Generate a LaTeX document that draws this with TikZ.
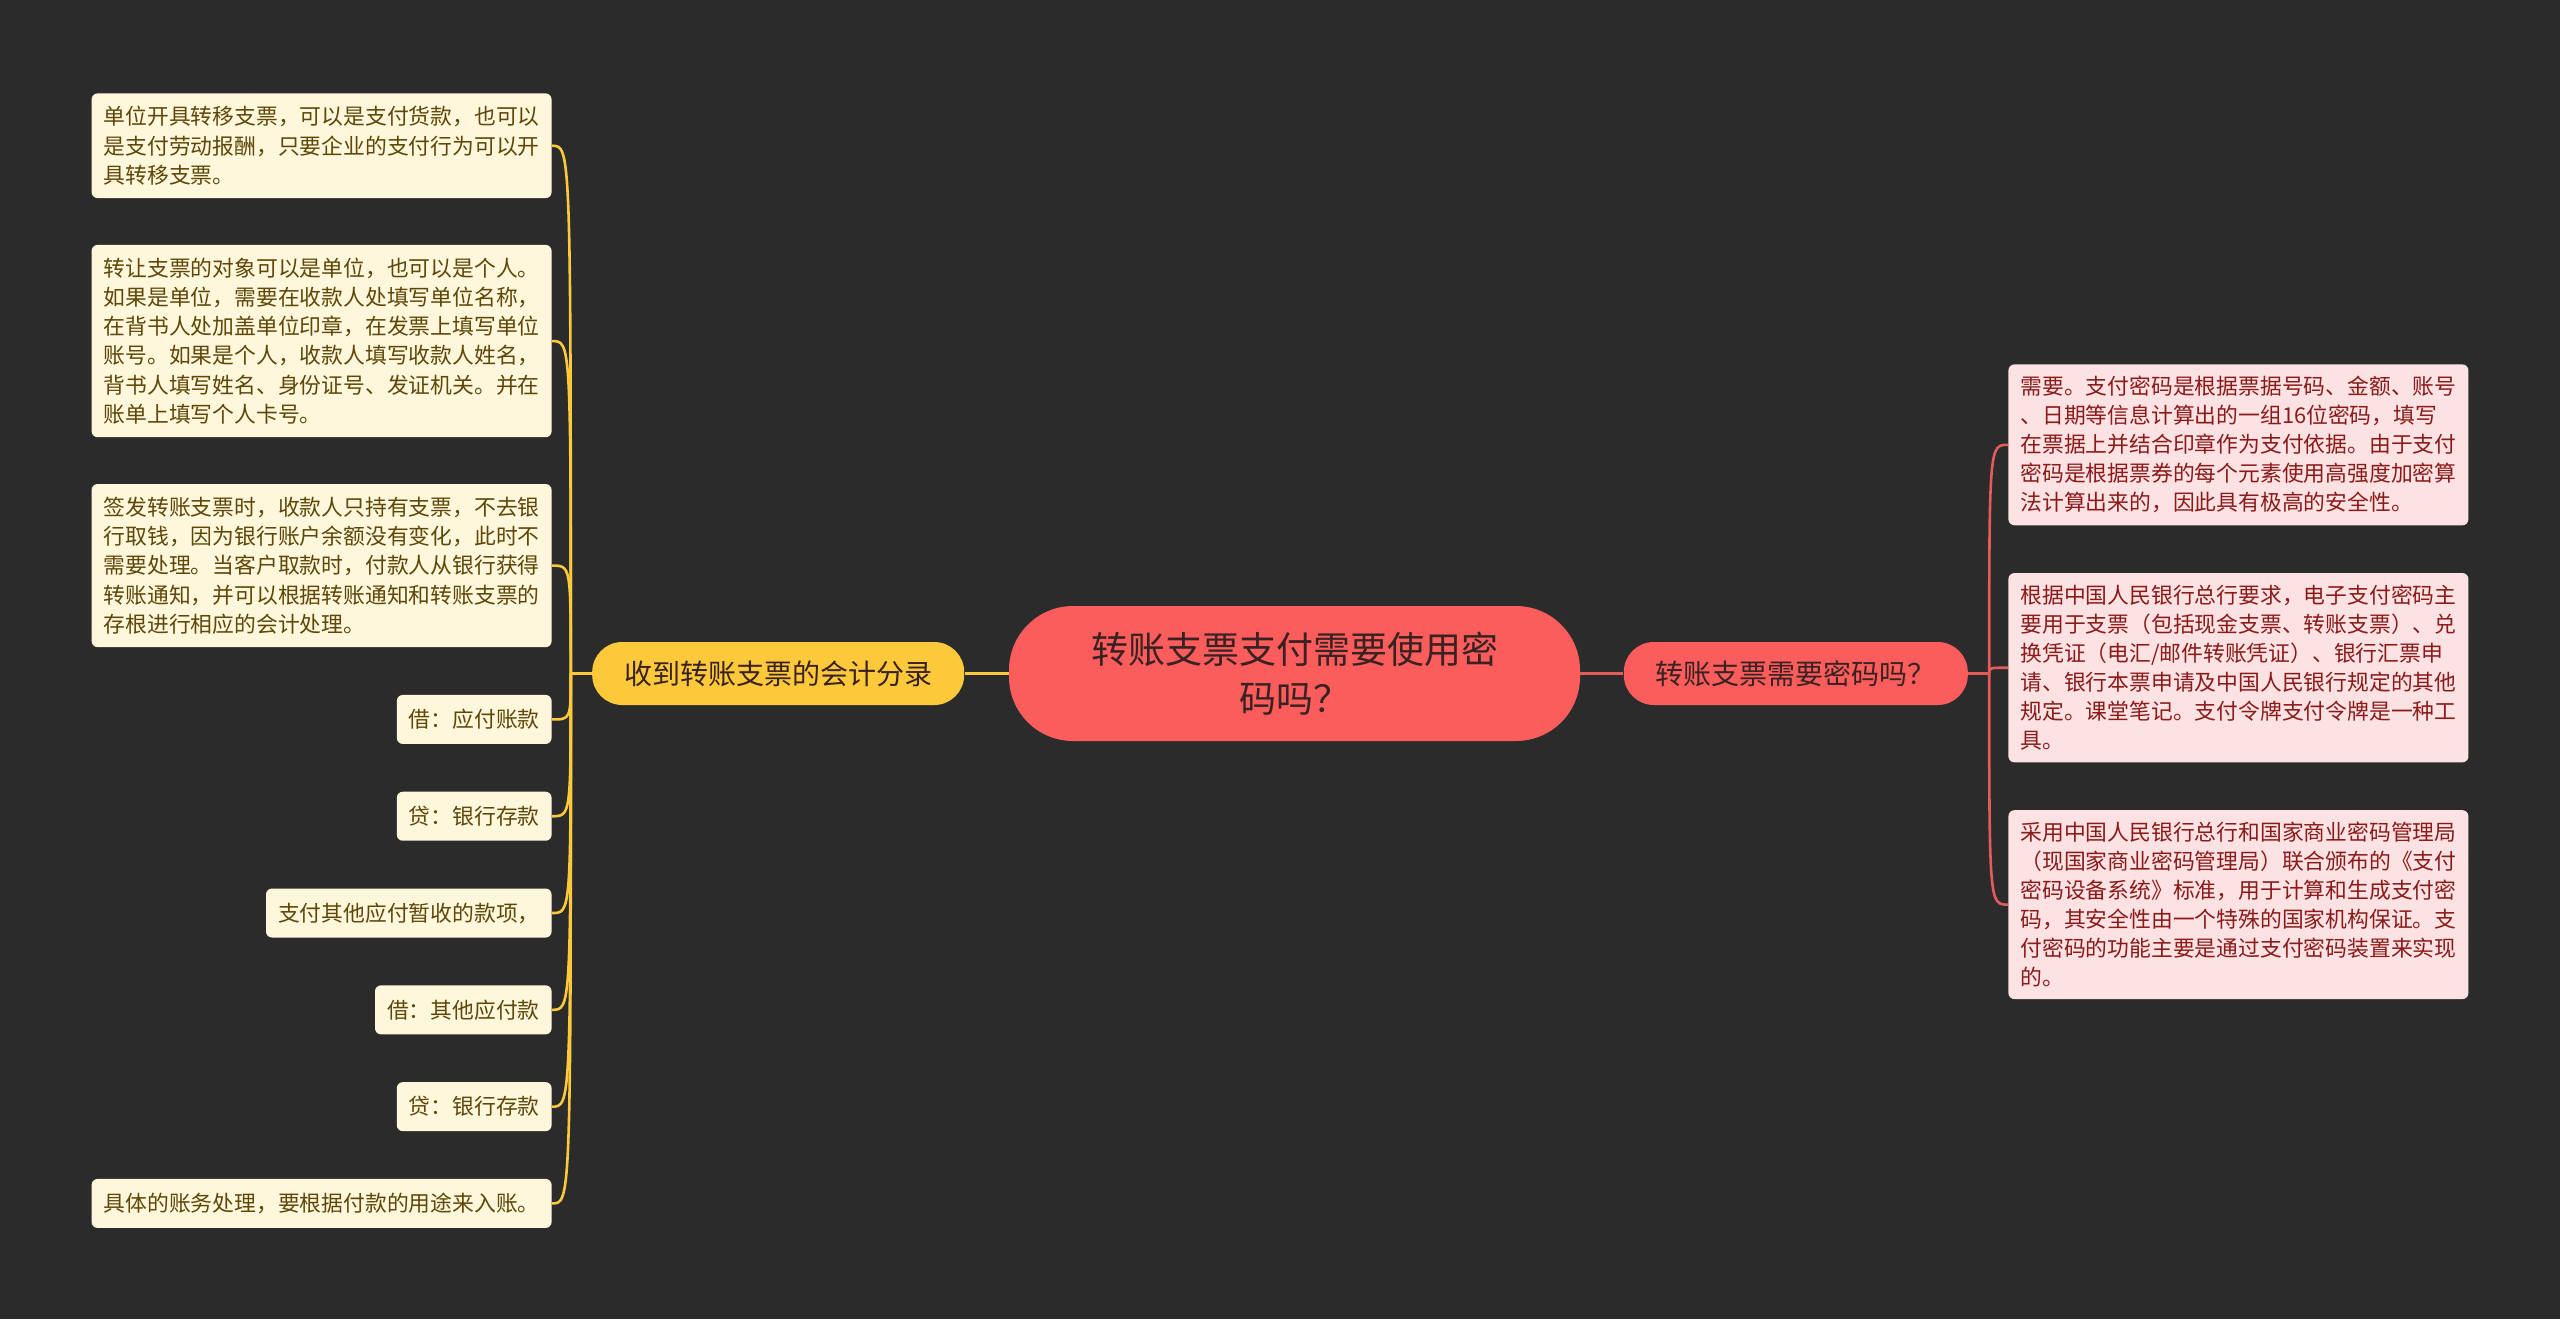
\documentclass[tikz,border=0pt]{standalone}
\usepackage{fontspec}
\setmainfont{Noto Sans CJK SC}
\definecolor{bgdark}{HTML}{2B2B2B}
\definecolor{rootred}{HTML}{FB5C5C}
\definecolor{roottext}{HTML}{3A2222}
\definecolor{gold}{HTML}{FCC93B}
\definecolor{cream}{HTML}{FEF7DC}
\definecolor{creamtext}{HTML}{5E4708}
\definecolor{pink}{HTML}{FCE2E2}
\definecolor{pinktext}{HTML}{8B1A1A}
\definecolor{linkred}{HTML}{E35B5B}
\usepackage{tikz}
\usetikzlibrary{positioning,calc}
\tikzset{
  root_pill/.style={fill=rootred,rounded corners=32pt,minimum width=285.5pt,minimum height=67.5pt,
    font=\fontsize{18.5}{24.5}\selectfont\color{roottext},align=center,inner sep=0pt},
  branch_gold/.style={fill=gold,rounded corners=15pt,minimum width=186pt,minimum height=31.5pt,
    font=\fontsize{14}{17}\selectfont\color{roottext},inner sep=0pt},
  branch_red/.style={fill=rootred,rounded corners=15pt,minimum width=172pt,minimum height=31.5pt,
    font=\fontsize{14}{17}\selectfont\color{roottext},inner sep=0pt},
  leaf_cream/.style={fill=cream,rounded corners=3pt,inner xsep=6pt,inner ysep=6.5pt,minimum height=24.5pt,
    font=\fontsize{10.9}{14.6}\selectfont\color{creamtext},align=left},
  leaf_pink/.style={fill=pink,rounded corners=3pt,inner xsep=6pt,inner ysep=6pt,minimum height=24pt,
    font=\fontsize{10.9}{14.5}\selectfont\color{pinktext},align=left},
  wide/.style={text width=218pt},
  link_gold/.style={draw=gold,line width=1.3pt},
  link_red/.style={draw=linkred,line width=1.3pt},
}

\begin{document}
\begin{tikzpicture}[x=0.5pt,y=-0.5pt]

  \fill[bgdark] (0,0) rectangle (2560,1319);
  \useasboundingbox (0,0) rectangle (2560,1319);

  \node[root_pill] (main) at (1294.5,673.5) {转账支票支付需要使用密\\码吗？};
  \node[branch_gold, left=22pt of main] (acc) {收到转账支票的会计分录};
  \node[branch_red, right=21.5pt of main] (pwd) {转账支票需要密码吗？};

  % left side
  \node[leaf_cream,wide,anchor=north east] (l1) at (552,93) {单位开具转移支票，可以是支付货款，也可以\\是支付劳动报酬，只要企业的支付行为可以开\\具转移支票。};
  \node[leaf_cream,wide,below=23pt of l1.south east,anchor=north east] (l2) {转让支票的对象可以是单位，也可以是个人。\\如果是单位，需要在收款人处填写单位名称，\\在背书人处加盖单位印章，在发票上填写单位\\账号。如果是个人，收款人填写收款人姓名，\\背书人填写姓名、身份证号、发证机关。并在\\账单上填写个人卡号。};
  \node[leaf_cream,wide,below=23pt of l2.south east,anchor=north east] (l3) {签发转账支票时，收款人只持有支票，不去银\\行取钱，因为银行账户余额没有变化，此时不\\需要处理。当客户取款时，付款人从银行获得\\转账通知，并可以根据转账通知和转账支票的\\存根进行相应的会计处理。};
  \node[leaf_cream,below=23.5pt of l3.south east,anchor=north east] (l4) {借：应付账款};
  \node[leaf_cream,below=23.5pt of l4.south east,anchor=north east] (l5) {贷：银行存款};
  \node[leaf_cream,below=23.5pt of l5.south east,anchor=north east] (l6) {支付其他应付暂收的款项，};
  \node[leaf_cream,below=23.5pt of l6.south east,anchor=north east] (l7) {借：其他应付款};
  \node[leaf_cream,below=23.5pt of l7.south east,anchor=north east] (l8) {贷：银行存款};
  \node[leaf_cream,below=23.5pt of l8.south east,anchor=north east] (l9) {具体的账务处理，要根据付款的用途来入账。};

  % right side
  \node[leaf_pink,wide,anchor=north west] (r1) at (2008,364) {需要。支付密码是根据票据号码、金额、账号\\、日期等信息计算出的一组16位密码，填写\\在票据上并结合印章作为支付依据。由于支付\\密码是根据票券的每个元素使用高强度加密算\\法计算出来的，因此具有极高的安全性。};
  \node[leaf_pink,wide,below=23.5pt of r1.south west,anchor=north west] (r2) {根据中国人民银行总行要求，电子支付密码主\\要用于支票（包括现金支票、转账支票）、兑\\换凭证（电汇/邮件转账凭证）、银行汇票申\\请、银行本票申请及中国人民银行规定的其他\\规定。课堂笔记。支付令牌支付令牌是一种工\\具。};
  \node[leaf_pink,wide,below=23.5pt of r2.south west,anchor=north west] (r3) {采用中国人民银行总行和国家商业密码管理局\\（现国家商业密码管理局）联合颁布的《支付\\密码设备系统》标准，用于计算和生成支付密\\码，其安全性由一个特殊的国家机构保证。支\\付密码的功能主要是通过支付密码装置来实现\\的。};

  % connectors
  \draw[link_gold] (main.west) -- (acc.east);
  \draw[link_red] (main.east) -- (pwd.west);
  \coordinate (accj) at ([xshift=-10.5pt]acc.west);
  \coordinate (pwdj) at ([xshift=10.5pt]pwd.east);
  \draw[link_gold] (acc.west) -- (accj);
  \draw[link_red] (pwd.east) -- (pwdj);
  \foreach \n in {l1,l2,l3,l4,l5,l6,l7,l8,l9}
    \draw[link_gold] (accj) .. controls (accj |- \n.east) .. (\n.east);
  \foreach \n in {r1,r2,r3}
    \draw[link_red] (pwdj) .. controls (pwdj |- \n.west) .. (\n.west);
\end{tikzpicture}
\end{document}
